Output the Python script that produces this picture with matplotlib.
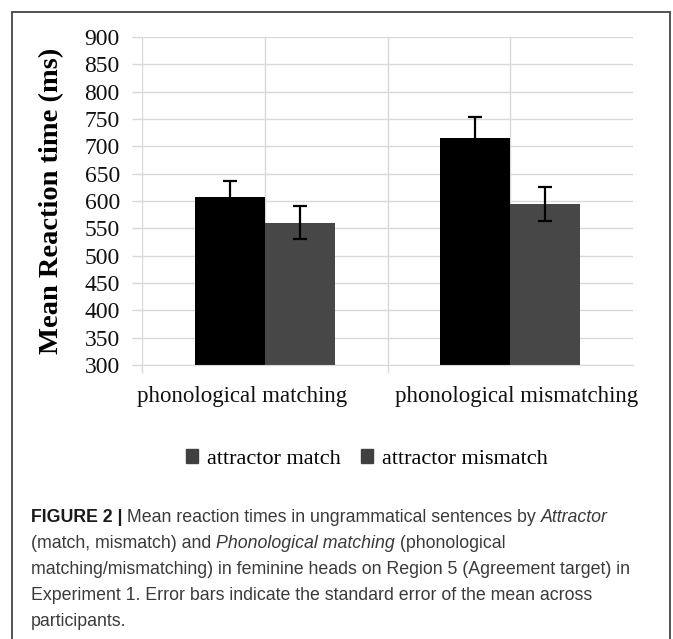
import matplotlib
matplotlib.use('Agg')
import matplotlib.pyplot as plt
import matplotlib.transforms as mtransforms
from matplotlib.patches import Rectangle, Patch

categories = ["phonological matching", "phonological mismatching"]
series = ["attractor match", "attractor mismatch"]
match_rt = [608, 716]
mismatch_rt = [560, 595]
match_se = [29, 38]
mismatch_se = [30, 31]
yticks = list(range(300, 901, 50))

W, H = 673, 639
fig = plt.figure(figsize=(W / 100, H / 100), dpi=100)
serif = "Liberation Serif"
sans = "Liberation Sans"

# frame around the whole figure (open at the bottom)
fig.add_artist(Rectangle((12 / W, -0.05), (670 - 12) / W, 1.05 - 12 / H,
                         transform=fig.transFigure, fill=False,
                         edgecolor="#444444", linewidth=1.3))

ax = fig.add_axes([142 / W, (H - 365) / H, (633 - 142) / W, (365 - 37) / H])
x = [0, 1]
bw = 0.285
grid_c = "#d9d9d9"
for y in yticks:
    ax.axhline(y, color=grid_c, linewidth=1.0, zorder=0)
for xv in [-0.5, 0, 0.5, 1]:
    ax.axvline(xv, color=grid_c, linewidth=1.0, zorder=0)

ax.bar([v - bw / 2 for v in x], match_rt, bw, color="#000000", zorder=2)
ax.bar([v + bw / 2 for v in x], mismatch_rt, bw, color="#474747", zorder=2)
ax.errorbar([v - bw / 2 for v in x], match_rt, yerr=match_se, fmt="none",
            ecolor="black", elinewidth=1.6, capsize=5, capthick=1.6, zorder=3)
ax.errorbar([v + bw / 2 for v in x], mismatch_rt, yerr=mismatch_se, fmt="none",
            ecolor="black", elinewidth=1.6, capsize=5, capthick=1.6, zorder=3)

ax.set_xlim(-0.5, 1.5)
ax.set_ylim(300, 900)
ax.set_yticks(yticks)
ax.set_yticklabels([str(t) for t in yticks], fontfamily=serif, fontsize=17)
ax.set_xticks(x)
ax.set_xticklabels(categories, fontfamily=serif, fontsize=16.5)
ax.set_xticks([-0.5, 0.5], minor=True)
ax.tick_params(axis="y", length=7, width=1.0, color=grid_c, pad=9,
               labelcolor="#111111")
ax.tick_params(axis="x", which="major", length=0, pad=15, colors="#111111")
ax.tick_params(axis="x", which="minor", length=6, color=grid_c, width=1.0)
# category labels sit a little off-centre in the original
for lbl, dx in zip(ax.get_xticklabels(), [-23, 6]):
    lbl.set_transform(lbl.get_transform() +
                      mtransforms.ScaledTranslation(dx / 100, 0, fig.dpi_scale_trans))
for s in ["top", "right", "left"]:
    ax.spines[s].set_visible(False)
ax.spines["bottom"].set_color(grid_c)
ax.set_ylabel("Mean Reaction time (ms)", fontfamily=serif, fontsize=20.5,
              fontweight="bold")
ax.yaxis.set_label_coords(-(142 - 64) / (633 - 142), 0.5)

handles = [Patch(color="#404040", label=s) for s in series]
fig.legend(handles=handles, loc="center", bbox_to_anchor=(367 / W, 1 - 459 / H),
           ncol=2, frameon=False, prop={"family": serif, "size": 16},
           handlelength=0.55, handleheight=0.55, handletextpad=0.4,
           columnspacing=0.9)

# caption
caption = [
    [("FIGURE 2 |", "bold", "normal"),
     (" Mean reaction times in ungrammatical sentences by ", "normal", "normal"),
     ("Attractor", "normal", "italic")],
    [("(match, mismatch) and ", "normal", "normal"),
     ("Phonological matching", "normal", "italic"),
     (" (phonological", "normal", "normal")],
    [("matching/mismatching) in feminine heads on Region 5 (Agreement target) in", "normal", "normal")],
    [("Experiment 1. Error bars indicate the standard error of the mean across", "normal", "normal")],
    [("participants.", "normal", "normal")],
]
baselines = [522, 548, 574, 600, 626]
renderer = fig.canvas.get_renderer()
for runs, ly in zip(caption, baselines):
    xpos = 31
    for txt, weight, style in runs:
        t = fig.text(xpos / W, 1 - ly / H, txt, fontfamily=sans, fontsize=12.8,
                     fontweight=weight, fontstyle=style, va="baseline", ha="left",
                     color="#1a1a1a" if weight == "bold" else "#3a3a3a")
        bb = t.get_window_extent(renderer=renderer)
        xpos += bb.width

fig.savefig("out.png", dpi=100)
